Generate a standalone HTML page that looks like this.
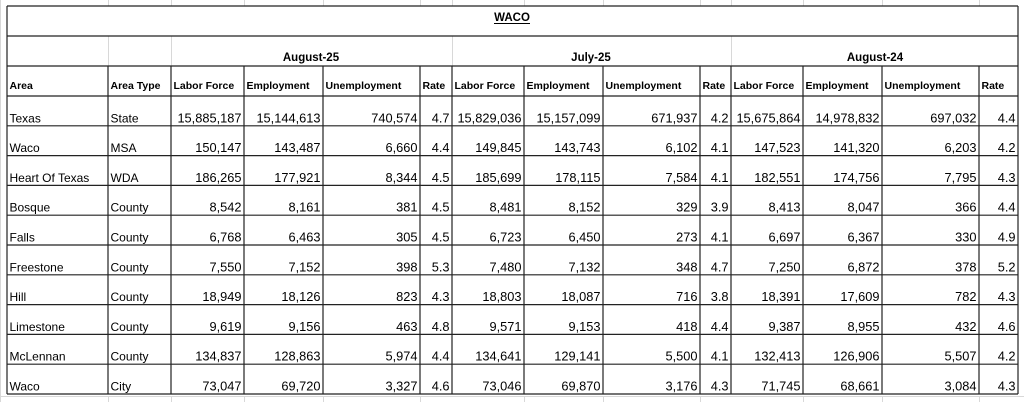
<!DOCTYPE html>
<html><head><meta charset="utf-8"><style>
html,body{margin:0;padding:0;background:#fff;}
svg{display:block;}
text{font-family:"Liberation Sans",Arial,sans-serif;fill:#000;font-size:12px;}
.h{font-weight:bold;font-size:10.5px;}
.m{font-weight:bold;font-size:11.5px;text-anchor:middle;}
.e{text-anchor:end;font-size:12.8px;}
</style></head><body>
<svg width="1024" height="402" xmlns="http://www.w3.org/2000/svg">
<g stroke="#d8d8d8" stroke-width="1">
<line x1="0.5" y1="0" x2="0.5" y2="402"/>
<line x1="0" y1="396.5" x2="1024" y2="396.5"/>
<line x1="108.5" y1="0" x2="108.5" y2="6"/><line x1="171.5" y1="0" x2="171.5" y2="6"/>
<line x1="244.5" y1="0" x2="244.5" y2="6"/><line x1="323.5" y1="0" x2="323.5" y2="6"/>
<line x1="420.5" y1="0" x2="420.5" y2="6"/><line x1="452.5" y1="0" x2="452.5" y2="6"/>
<line x1="524.5" y1="0" x2="524.5" y2="6"/><line x1="603.5" y1="0" x2="603.5" y2="6"/>
<line x1="700.5" y1="0" x2="700.5" y2="6"/><line x1="731.5" y1="0" x2="731.5" y2="6"/>
<line x1="803.5" y1="0" x2="803.5" y2="6"/><line x1="882.5" y1="0" x2="882.5" y2="6"/>
<line x1="979.5" y1="0" x2="979.5" y2="6"/>
<line x1="108.5" y1="36" x2="108.5" y2="66"/><line x1="171.5" y1="36" x2="171.5" y2="66"/>
<line x1="452.5" y1="36" x2="452.5" y2="66"/><line x1="731.5" y1="36" x2="731.5" y2="66"/>
<line x1="108.5" y1="396" x2="108.5" y2="402"/><line x1="171.5" y1="396" x2="171.5" y2="402"/>
<line x1="244.5" y1="396" x2="244.5" y2="402"/><line x1="323.5" y1="396" x2="323.5" y2="402"/>
<line x1="420.5" y1="396" x2="420.5" y2="402"/><line x1="524.5" y1="396" x2="524.5" y2="402"/>
<line x1="603.5" y1="396" x2="603.5" y2="402"/><line x1="700.5" y1="396" x2="700.5" y2="402"/>
<line x1="803.5" y1="396" x2="803.5" y2="402"/><line x1="882.5" y1="396" x2="882.5" y2="402"/>
<line x1="979.5" y1="396" x2="979.5" y2="402"/>
</g>
<g stroke="#222" stroke-width="1.2">
<line x1="7" y1="6" x2="1018" y2="6"/>
<line x1="7" y1="36" x2="1018" y2="36"/>
<line x1="7" y1="66" x2="1018" y2="66"/>
<line x1="7" y1="96" x2="1018" y2="96"/>
<line x1="7" y1="125.8" x2="1018" y2="125.8"/>
<line x1="7" y1="155.6" x2="1018" y2="155.6"/>
<line x1="7" y1="185.4" x2="1018" y2="185.4"/>
<line x1="7" y1="215.2" x2="1018" y2="215.2"/>
<line x1="7" y1="245" x2="1018" y2="245"/>
<line x1="7" y1="274.8" x2="1018" y2="274.8"/>
<line x1="7" y1="304.6" x2="1018" y2="304.6"/>
<line x1="7" y1="334.4" x2="1018" y2="334.4"/>
<line x1="7" y1="364.2" x2="1018" y2="364.2"/>
<line x1="7" y1="394" x2="1018" y2="394"/>
<line x1="7" y1="6" x2="7" y2="394"/>
<line x1="1018" y1="6" x2="1018" y2="394"/>
<line x1="108" y1="66" x2="108" y2="394"/>
<line x1="171" y1="66" x2="171" y2="394"/>
<line x1="244" y1="66" x2="244" y2="394"/>
<line x1="323" y1="66" x2="323" y2="394"/>
<line x1="420" y1="66" x2="420" y2="394"/>
<line x1="452" y1="66" x2="452" y2="394"/>
<line x1="524" y1="66" x2="524" y2="394"/>
<line x1="603" y1="66" x2="603" y2="394"/>
<line x1="700" y1="66" x2="700" y2="394"/>
<line x1="731" y1="66" x2="731" y2="394"/>
<line x1="803" y1="66" x2="803" y2="394"/>
<line x1="882" y1="66" x2="882" y2="394"/>
<line x1="979" y1="66" x2="979" y2="394"/>
</g>
<text class="m" x="512" y="21">WACO</text>
<line x1="494" y1="23.5" x2="530" y2="23.5" stroke="#000" stroke-width="1"/>
<text class="m" x="311" y="61">August-25</text>
<text class="m" x="591" y="61">July-25</text>
<text class="m" x="875" y="61">August-24</text>
<g class="h">
<text class="h" x="9.5" y="89">Area</text>
<text class="h" x="110.5" y="89">Area Type</text>
<text class="h" x="173.5" y="89">Labor Force</text>
<text class="h" x="246.5" y="89">Employment</text>
<text class="h" x="325.5" y="89">Unemployment</text>
<text class="h" x="422.5" y="89">Rate</text>
<text class="h" x="454.5" y="89">Labor Force</text>
<text class="h" x="526.5" y="89">Employment</text>
<text class="h" x="605.5" y="89">Unemployment</text>
<text class="h" x="702.5" y="89">Rate</text>
<text class="h" x="733.5" y="89">Labor Force</text>
<text class="h" x="805.5" y="89">Employment</text>
<text class="h" x="884.5" y="89">Unemployment</text>
<text class="h" x="981.5" y="89">Rate</text>
</g>
<g transform="translate(0,122.3)">
<text x="9.5" y="0">Texas</text><text x="110.5" y="0">State</text>
<text class="e" x="241.5" y="0">15,885,187</text><text class="e" x="320.5" y="0">15,144,613</text><text class="e" x="417.5" y="0">740,574</text><text class="e" x="449.5" y="0">4.7</text>
<text class="e" x="521.5" y="0">15,829,036</text><text class="e" x="600.5" y="0">15,157,099</text><text class="e" x="697.5" y="0">671,937</text><text class="e" x="728.5" y="0">4.2</text>
<text class="e" x="800.5" y="0">15,675,864</text><text class="e" x="879.5" y="0">14,978,832</text><text class="e" x="976.5" y="0">697,032</text><text class="e" x="1015.5" y="0">4.4</text>
</g>
<g transform="translate(0,152.1)">
<text x="9.5" y="0">Waco</text><text x="110.5" y="0">MSA</text>
<text class="e" x="241.5" y="0">150,147</text><text class="e" x="320.5" y="0">143,487</text><text class="e" x="417.5" y="0">6,660</text><text class="e" x="449.5" y="0">4.4</text>
<text class="e" x="521.5" y="0">149,845</text><text class="e" x="600.5" y="0">143,743</text><text class="e" x="697.5" y="0">6,102</text><text class="e" x="728.5" y="0">4.1</text>
<text class="e" x="800.5" y="0">147,523</text><text class="e" x="879.5" y="0">141,320</text><text class="e" x="976.5" y="0">6,203</text><text class="e" x="1015.5" y="0">4.2</text>
</g>
<g transform="translate(0,181.9)">
<text x="9.5" y="0">Heart Of Texas</text><text x="110.5" y="0">WDA</text>
<text class="e" x="241.5" y="0">186,265</text><text class="e" x="320.5" y="0">177,921</text><text class="e" x="417.5" y="0">8,344</text><text class="e" x="449.5" y="0">4.5</text>
<text class="e" x="521.5" y="0">185,699</text><text class="e" x="600.5" y="0">178,115</text><text class="e" x="697.5" y="0">7,584</text><text class="e" x="728.5" y="0">4.1</text>
<text class="e" x="800.5" y="0">182,551</text><text class="e" x="879.5" y="0">174,756</text><text class="e" x="976.5" y="0">7,795</text><text class="e" x="1015.5" y="0">4.3</text>
</g>
<g transform="translate(0,211.7)">
<text x="9.5" y="0">Bosque</text><text x="110.5" y="0">County</text>
<text class="e" x="241.5" y="0">8,542</text><text class="e" x="320.5" y="0">8,161</text><text class="e" x="417.5" y="0">381</text><text class="e" x="449.5" y="0">4.5</text>
<text class="e" x="521.5" y="0">8,481</text><text class="e" x="600.5" y="0">8,152</text><text class="e" x="697.5" y="0">329</text><text class="e" x="728.5" y="0">3.9</text>
<text class="e" x="800.5" y="0">8,413</text><text class="e" x="879.5" y="0">8,047</text><text class="e" x="976.5" y="0">366</text><text class="e" x="1015.5" y="0">4.4</text>
</g>
<g transform="translate(0,241.5)">
<text x="9.5" y="0">Falls</text><text x="110.5" y="0">County</text>
<text class="e" x="241.5" y="0">6,768</text><text class="e" x="320.5" y="0">6,463</text><text class="e" x="417.5" y="0">305</text><text class="e" x="449.5" y="0">4.5</text>
<text class="e" x="521.5" y="0">6,723</text><text class="e" x="600.5" y="0">6,450</text><text class="e" x="697.5" y="0">273</text><text class="e" x="728.5" y="0">4.1</text>
<text class="e" x="800.5" y="0">6,697</text><text class="e" x="879.5" y="0">6,367</text><text class="e" x="976.5" y="0">330</text><text class="e" x="1015.5" y="0">4.9</text>
</g>
<g transform="translate(0,271.3)">
<text x="9.5" y="0">Freestone</text><text x="110.5" y="0">County</text>
<text class="e" x="241.5" y="0">7,550</text><text class="e" x="320.5" y="0">7,152</text><text class="e" x="417.5" y="0">398</text><text class="e" x="449.5" y="0">5.3</text>
<text class="e" x="521.5" y="0">7,480</text><text class="e" x="600.5" y="0">7,132</text><text class="e" x="697.5" y="0">348</text><text class="e" x="728.5" y="0">4.7</text>
<text class="e" x="800.5" y="0">7,250</text><text class="e" x="879.5" y="0">6,872</text><text class="e" x="976.5" y="0">378</text><text class="e" x="1015.5" y="0">5.2</text>
</g>
<g transform="translate(0,301.1)">
<text x="9.5" y="0">Hill</text><text x="110.5" y="0">County</text>
<text class="e" x="241.5" y="0">18,949</text><text class="e" x="320.5" y="0">18,126</text><text class="e" x="417.5" y="0">823</text><text class="e" x="449.5" y="0">4.3</text>
<text class="e" x="521.5" y="0">18,803</text><text class="e" x="600.5" y="0">18,087</text><text class="e" x="697.5" y="0">716</text><text class="e" x="728.5" y="0">3.8</text>
<text class="e" x="800.5" y="0">18,391</text><text class="e" x="879.5" y="0">17,609</text><text class="e" x="976.5" y="0">782</text><text class="e" x="1015.5" y="0">4.3</text>
</g>
<g transform="translate(0,330.9)">
<text x="9.5" y="0">Limestone</text><text x="110.5" y="0">County</text>
<text class="e" x="241.5" y="0">9,619</text><text class="e" x="320.5" y="0">9,156</text><text class="e" x="417.5" y="0">463</text><text class="e" x="449.5" y="0">4.8</text>
<text class="e" x="521.5" y="0">9,571</text><text class="e" x="600.5" y="0">9,153</text><text class="e" x="697.5" y="0">418</text><text class="e" x="728.5" y="0">4.4</text>
<text class="e" x="800.5" y="0">9,387</text><text class="e" x="879.5" y="0">8,955</text><text class="e" x="976.5" y="0">432</text><text class="e" x="1015.5" y="0">4.6</text>
</g>
<g transform="translate(0,360.7)">
<text x="9.5" y="0">McLennan</text><text x="110.5" y="0">County</text>
<text class="e" x="241.5" y="0">134,837</text><text class="e" x="320.5" y="0">128,863</text><text class="e" x="417.5" y="0">5,974</text><text class="e" x="449.5" y="0">4.4</text>
<text class="e" x="521.5" y="0">134,641</text><text class="e" x="600.5" y="0">129,141</text><text class="e" x="697.5" y="0">5,500</text><text class="e" x="728.5" y="0">4.1</text>
<text class="e" x="800.5" y="0">132,413</text><text class="e" x="879.5" y="0">126,906</text><text class="e" x="976.5" y="0">5,507</text><text class="e" x="1015.5" y="0">4.2</text>
</g>
<g transform="translate(0,390.5)">
<text x="9.5" y="0">Waco</text><text x="110.5" y="0">City</text>
<text class="e" x="241.5" y="0">73,047</text><text class="e" x="320.5" y="0">69,720</text><text class="e" x="417.5" y="0">3,327</text><text class="e" x="449.5" y="0">4.6</text>
<text class="e" x="521.5" y="0">73,046</text><text class="e" x="600.5" y="0">69,870</text><text class="e" x="697.5" y="0">3,176</text><text class="e" x="728.5" y="0">4.3</text>
<text class="e" x="800.5" y="0">71,745</text><text class="e" x="879.5" y="0">68,661</text><text class="e" x="976.5" y="0">3,084</text><text class="e" x="1015.5" y="0">4.3</text>
</g>
</svg>
</body></html>
